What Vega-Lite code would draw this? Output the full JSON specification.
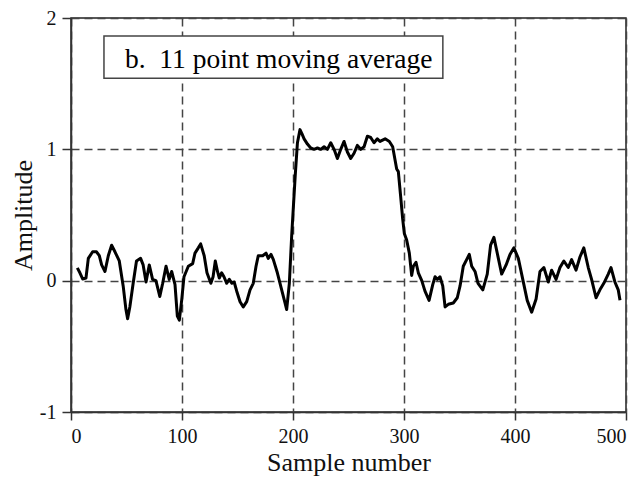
{
  "$schema": "https://vega.github.io/schema/vega-lite/v6.json",
  "width": 555,
  "height": 394,
  "autosize": {"type": "none"},
  "padding": {"left": 71, "top": 18, "right": 16, "bottom": 67},
  "background": "white",
  "config": {
    "view": {"stroke": "#222", "strokeWidth": 1.5},
    "font": "'Liberation Serif', 'Times New Roman', Times, 'DejaVu Serif', serif",
    "axis": {
      "labelFont": "'Liberation Serif', 'Times New Roman', Times, 'DejaVu Serif', serif",
      "titleFont": "'Liberation Serif', 'Times New Roman', Times, 'DejaVu Serif', serif",
      "labelColor": "#111",
      "titleColor": "#111",
      "titleFontWeight": "normal",
      "domainColor": "#333",
      "domainWidth": 1.5,
      "tickColor": "#333",
      "tickWidth": 1.5,
      "gridColor": "#444",
      "gridWidth": 1.5,
      "gridDash": [8, 5]
    }
  },
  "datasets": {
    "signal": [
      {"sample": 5.7, "amplitude": 0.097},
      {"sample": 8, "amplitude": 0.06},
      {"sample": 10.5, "amplitude": 0.013},
      {"sample": 13.5, "amplitude": 0.02},
      {"sample": 15.6, "amplitude": 0.17},
      {"sample": 19.5, "amplitude": 0.22},
      {"sample": 23, "amplitude": 0.22},
      {"sample": 25.5, "amplitude": 0.19},
      {"sample": 27.6, "amplitude": 0.12},
      {"sample": 30.6, "amplitude": 0.07},
      {"sample": 33.6, "amplitude": 0.19},
      {"sample": 36.6, "amplitude": 0.27},
      {"sample": 39.6, "amplitude": 0.22},
      {"sample": 43.5, "amplitude": 0.15},
      {"sample": 47, "amplitude": -0.04},
      {"sample": 49.5, "amplitude": -0.22},
      {"sample": 51, "amplitude": -0.29},
      {"sample": 53, "amplitude": -0.2},
      {"sample": 56, "amplitude": -0.02},
      {"sample": 59, "amplitude": 0.15},
      {"sample": 62.7, "amplitude": 0.17},
      {"sample": 65, "amplitude": 0.12},
      {"sample": 67.6, "amplitude": -0.01},
      {"sample": 70.5, "amplitude": 0.12},
      {"sample": 73.5, "amplitude": 0.01},
      {"sample": 76.5, "amplitude": 0.0},
      {"sample": 80, "amplitude": -0.12},
      {"sample": 82.6, "amplitude": -0.02},
      {"sample": 85.6, "amplitude": 0.11},
      {"sample": 88.5, "amplitude": 0.01},
      {"sample": 90.7, "amplitude": 0.07},
      {"sample": 93.7, "amplitude": -0.03},
      {"sample": 95.8, "amplitude": -0.27},
      {"sample": 97.6, "amplitude": -0.3},
      {"sample": 99.7, "amplitude": -0.15},
      {"sample": 101.8, "amplitude": 0.03},
      {"sample": 105.7, "amplitude": 0.11},
      {"sample": 109.6, "amplitude": 0.13},
      {"sample": 111.7, "amplitude": 0.21},
      {"sample": 114.7, "amplitude": 0.25},
      {"sample": 116.8, "amplitude": 0.28},
      {"sample": 120, "amplitude": 0.19},
      {"sample": 122.5, "amplitude": 0.06},
      {"sample": 126, "amplitude": -0.02},
      {"sample": 128, "amplitude": 0.03},
      {"sample": 130, "amplitude": 0.15},
      {"sample": 132, "amplitude": 0.07},
      {"sample": 133.6, "amplitude": 0.02},
      {"sample": 135.7, "amplitude": 0.06},
      {"sample": 137.8, "amplitude": 0.03},
      {"sample": 140.3, "amplitude": -0.02},
      {"sample": 142.6, "amplitude": 0.01},
      {"sample": 145, "amplitude": -0.02},
      {"sample": 147, "amplitude": -0.01},
      {"sample": 149.3, "amplitude": -0.08},
      {"sample": 152.3, "amplitude": -0.16},
      {"sample": 155.2, "amplitude": -0.2},
      {"sample": 158.3, "amplitude": -0.16},
      {"sample": 161.3, "amplitude": -0.07},
      {"sample": 164.2, "amplitude": -0.02},
      {"sample": 166.7, "amplitude": 0.11},
      {"sample": 168.7, "amplitude": 0.19},
      {"sample": 172.7, "amplitude": 0.19},
      {"sample": 175.7, "amplitude": 0.21},
      {"sample": 177.7, "amplitude": 0.17},
      {"sample": 180.2, "amplitude": 0.2},
      {"sample": 182.3, "amplitude": 0.16},
      {"sample": 185.9, "amplitude": 0.06},
      {"sample": 189.8, "amplitude": -0.07},
      {"sample": 192.8, "amplitude": -0.17},
      {"sample": 194.3, "amplitude": -0.22},
      {"sample": 196.7, "amplitude": -0.02},
      {"sample": 198.8, "amplitude": 0.34},
      {"sample": 202, "amplitude": 0.8},
      {"sample": 204, "amplitude": 1.05},
      {"sample": 206.3, "amplitude": 1.15},
      {"sample": 208, "amplitude": 1.12},
      {"sample": 210, "amplitude": 1.08},
      {"sample": 213, "amplitude": 1.04},
      {"sample": 216, "amplitude": 1.01},
      {"sample": 219, "amplitude": 1.0},
      {"sample": 222, "amplitude": 1.01},
      {"sample": 225, "amplitude": 1.0},
      {"sample": 228, "amplitude": 1.02},
      {"sample": 231, "amplitude": 1.0},
      {"sample": 234, "amplitude": 1.05},
      {"sample": 237, "amplitude": 1.0},
      {"sample": 240, "amplitude": 0.93},
      {"sample": 243, "amplitude": 1.0},
      {"sample": 246, "amplitude": 1.06},
      {"sample": 249, "amplitude": 0.98},
      {"sample": 252, "amplitude": 0.93},
      {"sample": 255, "amplitude": 0.97},
      {"sample": 258, "amplitude": 1.03},
      {"sample": 261, "amplitude": 1.0},
      {"sample": 264, "amplitude": 1.02},
      {"sample": 267, "amplitude": 1.1},
      {"sample": 270, "amplitude": 1.09},
      {"sample": 273, "amplitude": 1.05},
      {"sample": 276, "amplitude": 1.08},
      {"sample": 278.4, "amplitude": 1.06},
      {"sample": 283, "amplitude": 1.08},
      {"sample": 286.8, "amplitude": 1.06},
      {"sample": 289.8, "amplitude": 1.02},
      {"sample": 291.9, "amplitude": 0.92},
      {"sample": 293.4, "amplitude": 0.85},
      {"sample": 294.9, "amplitude": 0.83},
      {"sample": 297, "amplitude": 0.64},
      {"sample": 298.8, "amplitude": 0.47},
      {"sample": 300.3, "amplitude": 0.36},
      {"sample": 302.4, "amplitude": 0.31},
      {"sample": 304.8, "amplitude": 0.21},
      {"sample": 306.9, "amplitude": 0.04},
      {"sample": 308.4, "amplitude": 0.11},
      {"sample": 310.8, "amplitude": 0.14},
      {"sample": 312.9, "amplitude": 0.06},
      {"sample": 316, "amplitude": 0.0},
      {"sample": 318.9, "amplitude": -0.08},
      {"sample": 322.6, "amplitude": -0.15},
      {"sample": 325.9, "amplitude": -0.03},
      {"sample": 328, "amplitude": 0.03},
      {"sample": 330, "amplitude": 0.01},
      {"sample": 332.4, "amplitude": 0.03},
      {"sample": 334.9, "amplitude": -0.04},
      {"sample": 337, "amplitude": -0.2},
      {"sample": 339.9, "amplitude": -0.18},
      {"sample": 344.4, "amplitude": -0.17},
      {"sample": 348, "amplitude": -0.13},
      {"sample": 350.5, "amplitude": -0.04},
      {"sample": 353.4, "amplitude": 0.11},
      {"sample": 357, "amplitude": 0.17},
      {"sample": 358.8, "amplitude": 0.2},
      {"sample": 361, "amplitude": 0.11},
      {"sample": 364, "amplitude": 0.07},
      {"sample": 366.7, "amplitude": -0.02},
      {"sample": 371, "amplitude": -0.07},
      {"sample": 375, "amplitude": 0.05},
      {"sample": 378, "amplitude": 0.27},
      {"sample": 381, "amplitude": 0.33},
      {"sample": 385, "amplitude": 0.17},
      {"sample": 388, "amplitude": 0.05},
      {"sample": 392, "amplitude": 0.12},
      {"sample": 395.5, "amplitude": 0.2},
      {"sample": 399, "amplitude": 0.25},
      {"sample": 403, "amplitude": 0.17},
      {"sample": 406, "amplitude": 0.05},
      {"sample": 411, "amplitude": -0.15},
      {"sample": 415, "amplitude": -0.24},
      {"sample": 419, "amplitude": -0.14},
      {"sample": 422.5, "amplitude": 0.07},
      {"sample": 426, "amplitude": 0.1},
      {"sample": 430, "amplitude": -0.01},
      {"sample": 433, "amplitude": 0.08},
      {"sample": 437, "amplitude": 0.01},
      {"sample": 440.5, "amplitude": 0.1},
      {"sample": 444, "amplitude": 0.15},
      {"sample": 448, "amplitude": 0.1},
      {"sample": 451, "amplitude": 0.16},
      {"sample": 455, "amplitude": 0.08},
      {"sample": 458.5, "amplitude": 0.18},
      {"sample": 462, "amplitude": 0.25},
      {"sample": 466, "amplitude": 0.1},
      {"sample": 469, "amplitude": 0.01},
      {"sample": 473, "amplitude": -0.13},
      {"sample": 476.5, "amplitude": -0.07},
      {"sample": 480, "amplitude": -0.02},
      {"sample": 484, "amplitude": 0.05},
      {"sample": 486.5, "amplitude": 0.1},
      {"sample": 490, "amplitude": -0.01},
      {"sample": 493, "amplitude": -0.07},
      {"sample": 494.6, "amplitude": -0.15}
    ],
    "label": [
      {"text": "b.\u00a0 11 point moving average"}
    ]
  },
  "layer": [
    {
      "data": {"name": "signal"},
      "mark": {"type": "line", "color": "#000", "strokeWidth": 3, "strokeJoin": "round", "clip": true},
      "encoding": {
        "x": {
          "field": "sample",
          "type": "quantitative",
          "scale": {"domain": [0, 500], "nice": false, "zero": false},
          "axis": {
            "title": "Sample number",
            "titleFontSize": 26,
            "titlePadding": 3,
            "labelFontSize": 20,
            "labelPadding": 6,
            "tickSize": 8,
            "labelExpr": "'' + datum.value",
            "values": [0, 100, 200, 300, 400, 500],
            "grid": true
          }
        },
        "y": {
          "field": "amplitude",
          "type": "quantitative",
          "scale": {"domain": [-1, 2], "nice": false, "zero": false},
          "axis": {
            "title": "Amplitude",
            "titleFontSize": 26,
            "titleX": -40,
            "titleBaseline": "alphabetic",
            "labelFontSize": 20,
            "labelPadding": 6,
            "tickSize": 9,
            "labelExpr": "'' + datum.value",
            "values": [-1, 0, 1, 2],
            "grid": true
          }
        }
      }
    },
    {
      "data": {"name": "label"},
      "mark": {"type": "rect", "fill": "white", "stroke": "#444", "strokeWidth": 1.5},
      "encoding": {
        "x": {"datum": 29.7, "type": "quantitative"},
        "x2": {"datum": 335},
        "y": {"datum": 1.863, "type": "quantitative"},
        "y2": {"datum": 1.542}
      }
    },
    {
      "data": {"name": "label"},
      "mark": {"type": "text", "font": "'Liberation Serif', 'Times New Roman', Times, 'DejaVu Serif', serif", "fontSize": 27.5, "align": "left", "baseline": "alphabetic", "color": "#000"},
      "encoding": {
        "x": {"datum": 48.6, "type": "quantitative"},
        "y": {"datum": 1.62, "type": "quantitative"},
        "text": {"field": "text"}
      }
    }
  ]
}
